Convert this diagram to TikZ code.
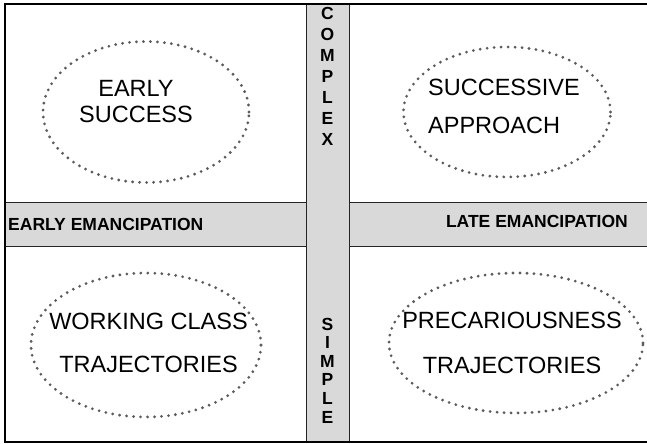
\documentclass[tikz,border=0pt]{standalone}
\usepackage{fontspec}
\setmainfont{Liberation Sans}
\usetikzlibrary{shapes.geometric}
\definecolor{bandgrey}{HTML}{D9D9D9}
\definecolor{dotgrey}{HTML}{5C5C5C}
\tikzset{
    field/.style={ellipse, draw=dotgrey, line width=3.1bp, line cap=round,
        dash pattern=on 0bp off 7bp, inner sep=0pt},
    fieldtext/.style={font=\fontsize{23.5bp}{#1}\selectfont, align=center, inner sep=0pt},
    bandtext/.style={font=\fontsize{17.5bp}{20bp}\selectfont\bfseries, inner sep=0pt},
    letter/.style={font=\fontsize{17.5bp}{20bp}\selectfont\bfseries, inner sep=0pt, anchor=base},
    bandline/.style={line width=0.9bp, black!85},
}
\begin{document}
\begin{tikzpicture}[x=1bp,y=-1bp]
    \useasboundingbox (0,0) rectangle (647,444);

    % grey bands
    \fill[bandgrey] (5,202) rectangle (306,246);
    \fill[bandgrey] (349,202) rectangle (652,246);
    \fill[bandgrey] (306,4) rectangle (349,442);
    \draw[bandline] (5,202) -- (306,202) (5,246) -- (306,246);
    \draw[bandline] (349,202) -- (652,202) (349,246) -- (652,246);
    \draw[bandline] (306,4) -- (306,442) (349,4) -- (349,442);
    \draw[line width=2bp] (5,4) rectangle (652,442);

    \node (earlyell) [field, minimum width=206bp, minimum height=141bp] at (146,112) {};
    \node (succell) [field, minimum width=207bp, minimum height=130bp] at (507,112) {};
    \node (workell) [field, minimum width=230bp, minimum height=144bp] at (146,345) {};
    \node (precell) [field, minimum width=254bp, minimum height=140bp] at (516,343) {};

    \node (earlytxt) [fieldtext=26bp] at (136,101.5) {EARLY\\SUCCESS};
    \node (succtxt) [fieldtext=38bp, align=left, anchor=west] at (428,106.5) {SUCCESSIVE\\APPROACH};
    \node (worktxt) [fieldtext=43bp] at (148.5,343) {WORKING CLASS\\TRAJECTORIES};
    \node (prectxt) [fieldtext=45bp] at (512,343) {PRECARIOUSNESS\\TRAJECTORIES};

    \node (earlyemc) [bandtext, anchor=base west] at (8,231) {EARLY EMANCIPATION};
    \node (lateemc) [bandtext, anchor=base east] at (628,228) {LATE EMANCIPATION};

    \foreach \ch [count=\i] in {C,O,M,P,L,E,X}
        \node (cplx\i) [letter] at (327.5,{20+21*(\i-1)}) {\ch};
    \foreach \ch [count=\i] in {S,I,M,P,L,E}
        \node (smpl\i) [letter] at (327.5,{330+18.6*(\i-1)}) {\ch};
\end{tikzpicture}
\end{document}
